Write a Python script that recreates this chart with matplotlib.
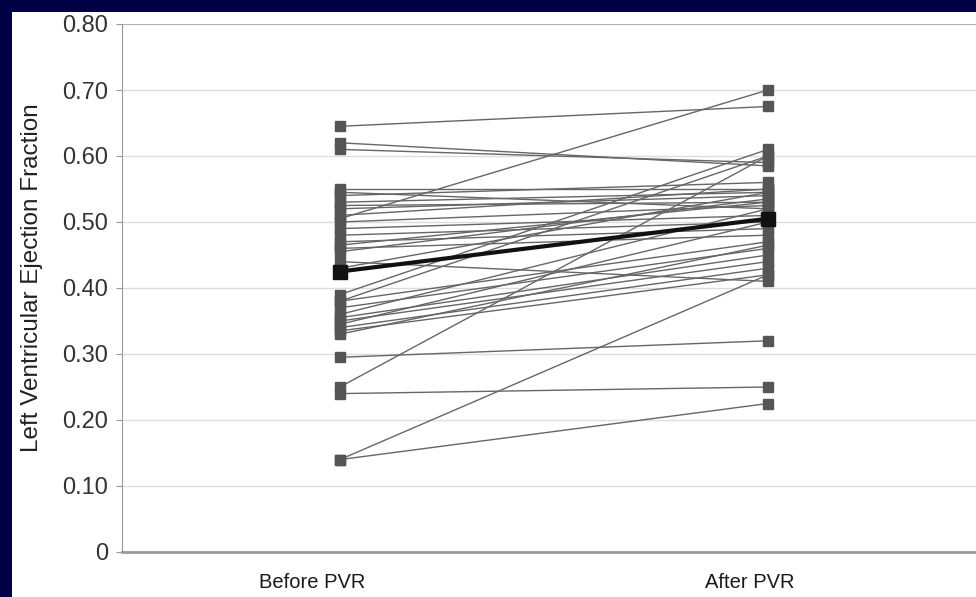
import matplotlib.pyplot as plt
from matplotlib.patches import Rectangle
from matplotlib.transforms import ScaledTranslation

# Individual patients: LVEF before and after PVR
before = [0.645, 0.62, 0.61, 0.55, 0.545, 0.54, 0.53, 0.525, 0.52, 0.51,
          0.50, 0.505, 0.49, 0.48, 0.47, 0.465, 0.46, 0.455, 0.44, 0.43,
          0.39, 0.38, 0.38, 0.37, 0.36, 0.355, 0.35, 0.345, 0.34, 0.335,
          0.33, 0.295, 0.25, 0.24, 0.14, 0.14]
after = [0.675, 0.585, 0.59, 0.55, 0.52, 0.56, 0.545, 0.53, 0.54, 0.55,
         0.525, 0.70, 0.51, 0.50, 0.49, 0.53, 0.48, 0.535, 0.41, 0.545,
         0.61, 0.60, 0.47, 0.46, 0.52, 0.45, 0.44, 0.50, 0.43, 0.42,
         0.465, 0.32, 0.60, 0.25, 0.42, 0.225]

# Group mean
mean_before = 0.425
mean_after = 0.505

categories = ['Before PVR', 'After PVR']
yticks = [0, 0.1, 0.2, 0.3, 0.4, 0.5, 0.6, 0.7, 0.8]
ytick_labels = ['0', '0.10', '0.20', '0.30', '0.40', '0.50', '0.60', '0.70', '0.80']

plt.rcParams['font.family'] = ['Liberation Sans', 'DejaVu Sans']

navy = '#000046'
fig = plt.figure(figsize=(9.76, 5.97), dpi=100, facecolor='white')
# navy frame strips along top and left edges
fig.patches.append(Rectangle((0, 1 - 12 / 597), 1, 12 / 597, transform=fig.transFigure,
                             facecolor=navy, edgecolor='none', zorder=5))
fig.patches.append(Rectangle((0, 0), 12 / 976, 1, transform=fig.transFigure,
                             facecolor=navy, edgecolor='none', zorder=5))
ax = fig.add_axes([122 / 976, 45 / 597, 854 / 976, 528 / 597])
ax.set_facecolor('white')

for b, a in zip(before, after):
    ax.plot([0, 1], [b, a], color='#666666', lw=1.0, marker='s', ms=6.5,
            mfc='#555555', mec='#555555', zorder=3)
ax.plot([0, 1], [mean_before, mean_after], color='#111111', lw=3, marker='s',
        ms=10, mfc='#111111', mec='#111111', zorder=4)

ax.set_xlim(-0.509, 1.486)
ax.set_ylim(0, 0.8)
ax.set_xticks([0, 1])
ax.set_xticklabels(categories, fontsize=14.5, color='#1a1a1a')
ax.tick_params(axis='x', length=0, pad=15)
# labels sit a little left of the data columns in the original
for lbl, dx in zip(ax.get_xticklabels(), [-28, -18]):
    lbl.set_transform(lbl.get_transform() + ScaledTranslation(dx / 100, 0, fig.dpi_scale_trans))
ax.set_yticks(yticks)
ax.set_yticklabels(ytick_labels, fontsize=17, color='#333333')
ax.tick_params(axis='y', length=4, color='#999999', pad=6)
ax.set_ylabel('Left Ventricular Ejection Fraction', fontsize=17.5, color='#222222')
ax.yaxis.set_label_coords(-0.092, 0.52)

ax.grid(axis='y', color='#dddddd', lw=1)
ax.set_axisbelow(True)
for s in ['top', 'right']:
    ax.spines[s].set_visible(False)
ax.spines['left'].set_color('#999999')
ax.spines['bottom'].set_color('#999999')
ax.spines['bottom'].set_linewidth(2)
ax.axhline(0.8, color='#aaaaaa', lw=1.2, zorder=1)

fig.savefig('out.png', dpi=100, facecolor=fig.get_facecolor())
